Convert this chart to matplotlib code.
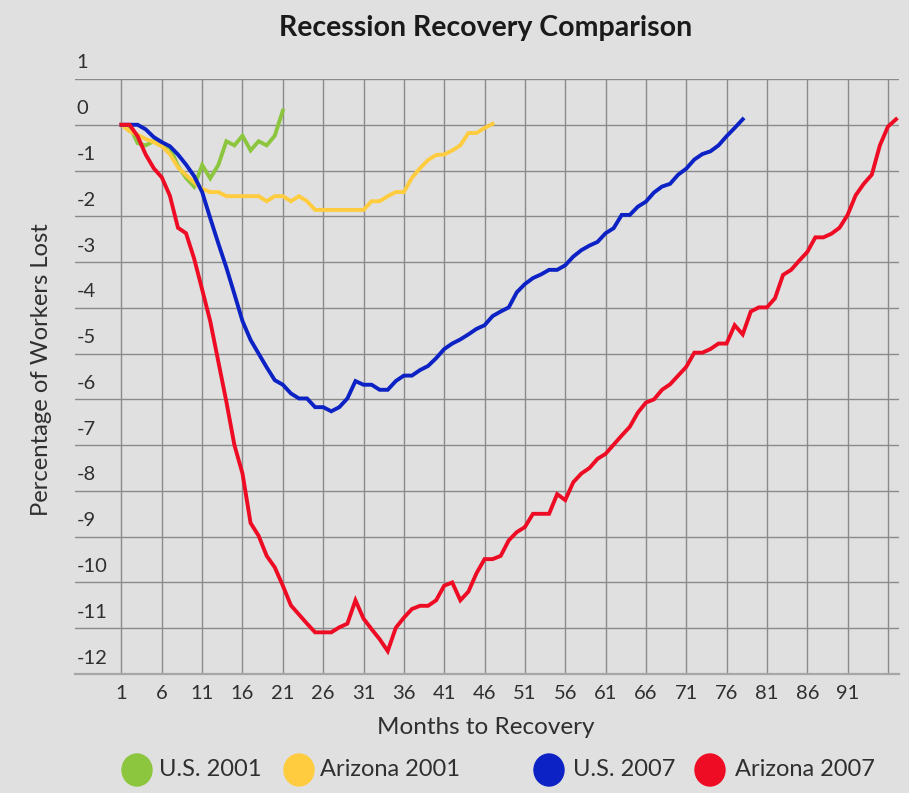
import matplotlib
matplotlib.use("Agg")
import matplotlib.pyplot as plt
from matplotlib.patches import Ellipse
from matplotlib.transforms import offset_copy

plt.rcParams['font.family'] = ['Lato', 'DejaVu Sans']

title = "Recession Recovery Comparison"
x_label = "Months to Recovery"
y_label = "Percentage of Workers Lost"

us_2001 = [0, -0.03, -0.40, -0.45, -0.36, -0.45, -0.50, -0.90, -1.16, -1.35,
           -0.88, -1.17, -0.88, -0.36, -0.45, -0.24, -0.56, -0.36, -0.45, -0.24,
           0.31]

az_2001 = [0, -0.14, -0.22, -0.31, -0.38, -0.47, -0.64, -0.93, -1.10, -1.26,
           -1.40, -1.47, -1.47, -1.56, -1.56, -1.56, -1.56, -1.56, -1.67, -1.56,
           -1.56, -1.67, -1.56, -1.67, -1.86, -1.86, -1.86, -1.86, -1.86, -1.86,
           -1.86, -1.67, -1.67, -1.56, -1.47, -1.47, -1.16, -0.95, -0.77, -0.66,
           -0.65, -0.56, -0.45, -0.18, -0.18, -0.07, 0.02]

us_2007 = [0, 0, 0, -0.10, -0.27, -0.38, -0.47, -0.65, -0.87, -1.12,
           -1.47, -2.04, -2.59, -3.12, -3.70, -4.29, -4.70, -5.00, -5.30, -5.58,
           -5.68, -5.87, -5.98, -5.98, -6.17, -6.17, -6.26, -6.17, -5.98, -5.60,
           -5.68, -5.68, -5.79, -5.79, -5.60, -5.48, -5.48, -5.36, -5.27, -5.10,
           -4.90, -4.78, -4.69, -4.58, -4.46, -4.38, -4.18, -4.08, -3.99, -3.66,
           -3.48, -3.35, -3.27, -3.17, -3.17, -3.07, -2.88, -2.74, -2.64, -2.56,
           -2.37, -2.26, -1.97, -1.97, -1.79, -1.68, -1.48, -1.35, -1.29, -1.09,
           -0.96, -0.76, -0.64, -0.58, -0.45, -0.25, -0.07, 0.12]

az_2007 = [0, 0, -0.25, -0.65, -0.95, -1.15, -1.55, -2.25, -2.37, -2.92,
           -3.60, -4.29, -5.17, -6.05, -7.00, -7.62, -8.70, -8.98, -9.42, -9.67,
           -10.07, -10.50, -10.70, -10.90, -11.09, -11.09, -11.09, -10.98, -10.90, -10.39,
           -10.79, -11.02, -11.24, -11.50, -10.99, -10.77, -10.58, -10.51, -10.51, -10.39,
           -10.07, -10.00, -10.39, -10.20, -9.80, -9.49, -9.49, -9.42, -9.08, -8.90,
           -8.79, -8.50, -8.50, -8.50, -8.07, -8.20, -7.81, -7.62, -7.50, -7.30,
           -7.19, -6.99, -6.79, -6.60, -6.29, -6.07, -6.00, -5.79, -5.67, -5.48,
           -5.29, -4.98, -4.98, -4.90, -4.78, -4.78, -4.38, -4.58, -4.08, -3.99,
           -3.99, -3.79, -3.28, -3.17, -2.97, -2.78, -2.46, -2.46, -2.38, -2.25,
           -1.97, -1.54, -1.29, -1.09, -0.45, -0.04, 0.12]

series_names = ["U.S. 2001", "Arizona 2001", "U.S. 2007", "Arizona 2007"]
series_colors = ["#8CC63F", "#FFCC40", "#0C22C4", "#EE0B24"]
series_values = [us_2001, az_2001, us_2007, az_2007]

x_ticks = list(range(1, 97, 5))
x_tick_labels = [str(t) if t <= 91 else "" for t in x_ticks]
y_ticks = list(range(-12, 2))

W, H = 909, 793
BG = "#e0e0e0"
TXT = "#2f2f2f"

fig = plt.figure(figsize=(W / 100, H / 100), dpi=100, facecolor=BG)
ax = fig.add_axes([75 / W, 1 - 674 / H, (899 - 75) / W, (674 - 79) / H])
ax.set_facecolor(BG)
ax.set_xlim(-4.76, 97.37)
ax.set_ylim(-12, 1)

ax.set_xticks(x_ticks)
ax.set_xticklabels(x_tick_labels)
ax.set_yticks(y_ticks)
ax.set_yticklabels([])
ax.grid(True, color="#8a8a8a", lw=1.0, zorder=0)
ax.set_axisbelow(True)
ax.tick_params(axis="both", length=0)
ax.tick_params(axis="x", pad=8, labelsize=14.5, labelcolor=TXT)
for s in ["top", "left", "right"]:
    ax.spines[s].set_visible(False)
ax.spines["bottom"].set_color("#a6a6a6")
ax.spines["bottom"].set_linewidth(1.6)

# y tick labels drawn above their gridlines, left-aligned inside the plot
trans = offset_copy(ax.get_yaxis_transform(), fig=fig, x=0, y=16, units="dots")
for v in y_ticks:
    ax.text(0.002, v, str(v), transform=trans, ha="left", va="center",
            fontsize=14.5, color=TXT)

for vals, col in zip(series_values, series_colors):
    months = list(range(1, len(vals) + 1))
    ax.plot(months, vals, color=col, lw=2.8, solid_joinstyle="miter", zorder=3)

fig.text(486 / W, 1 - 28 / H, title, ha="center", va="center",
         fontsize=20.5, fontweight="bold", color="#1a1a1a")
fig.text(486 / W, 1 - 728 / H, x_label, ha="center", va="center",
         fontsize=17.5, color=TXT)
fig.text(42 / W, 1 - 370 / H, y_label, ha="center", va="center",
         rotation=90, fontsize=17.2, color=TXT)

# legend (manual, irregular spacing as in reference)
circle_x = [137, 299, 549, 710]
text_x = [159, 320, 573, 735]
leg_y = 770
for cx, tx, name, col in zip(circle_x, text_x, series_names, series_colors):
    fig.add_artist(Ellipse((cx / W, 1 - leg_y / H), 30 / W, 32 / H,
                           transform=fig.transFigure, color=col))
    fig.text(tx / W, 1 - leg_y / H, name, ha="left", va="center",
             fontsize=17, color=TXT)

fig.savefig("out.png", dpi=100, facecolor=BG)
